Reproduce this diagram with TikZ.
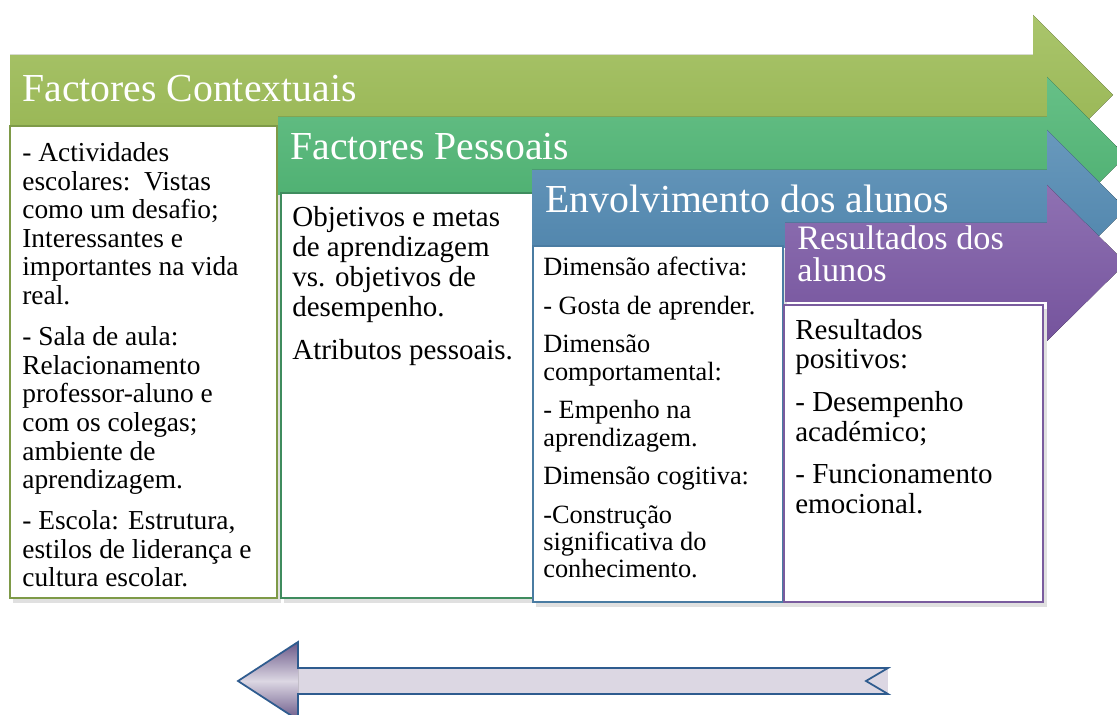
\documentclass[tikz,border=0pt]{standalone}
\usepackage{fontspec}
\setmainfont{Liberation Serif}
\usepackage{tikz}

\definecolor{verdeA}{HTML}{9BBB52}
\definecolor{verdeB}{HTML}{4CB572}
\definecolor{azulC}{HTML}{4E87B1}
\definecolor{roxoD}{HTML}{7B58A5}
\definecolor{bordaA}{HTML}{7E9A48}
\definecolor{bordaB}{HTML}{3F8C5E}
\definecolor{bordaC}{HTML}{4A7CA2}
\definecolor{bordaD}{HTML}{7A5C9E}
\definecolor{lilas}{HTML}{DCD7E3}
\definecolor{lilasE}{HTML}{6A5888}
\definecolor{azulE}{HTML}{2F5C8F}

\begin{document}
\begin{tikzpicture}[x=0.02cm, y=-0.02cm,
    seta/.style={top color=#1!85!white, bottom color=#1!95!black},
    caixa/.style={draw=#1, line width=1.1pt, fill=white},
    sombra/.style={fill=black, opacity=0.12},
    titulo/.style={white, inner sep=0pt, anchor=base west, font=\fontsize{22.6}{24}\selectfont},
    texto/.style={black, inner sep=0pt, anchor=north west, align=left}]
        \useasboundingbox (0,0) rectangle (1117,715);
        \clip (0,0) rectangle (1117,715);

        \fill[seta=verdeA] (10,55) -- (1033,55) -- (1033,15) -- (1113,95) -- (1033,175) -- (1033,135) -- (10,135) -- cycle;
        \draw (22,102) node(tctx)[titulo]{Factores Contextuais};
        \fill[sombra] (13,130) rectangle (281,603);
        \draw[caixa=bordaA] (10,126) rectangle (277,598);
        \draw (22,142) node(xctx)[texto, font=\fontsize{15.6}{16.3}\selectfont]{- Actividades\\ escolares:~~Vistas\\ como um desafio;\\ Interessantes e\\ importantes na vida\\ real.\\[7pt]
            - Sala de aula:\\ Relacionamento\\ professor-aluno e\\ com os colegas;\\ ambiente de\\ aprendizagem.\\[7pt]
            - Escola: Estrutura,\\ estilos de liderança e\\ cultura escolar.};

        \fill[seta=verdeB] (278,117) -- (1047,117) -- (1047,77) -- (1126,156) -- (1047,235) -- (1047,195) -- (278,195) -- cycle;
        \draw (290,160) node(tpes)[titulo]{Factores Pessoais};
        \fill[sombra] (284,197) rectangle (537,603);
        \draw[caixa=bordaB] (281,193) rectangle (533,598);
        \draw (292,206) node(xpes)[texto, font=\fontsize{16.5}{17}\selectfont]{Objetivos e metas\\ de aprendizagem\\ vs. objetivos de\\ desempenho.\\[8pt]
            Atributos pessoais.};

        \fill[seta=azulC] (532,170) -- (1047,170) -- (1047,130) -- (1126,209) -- (1047,288) -- (1047,248) -- (532,248) -- cycle;
        \draw (545,213) node(tenv)[titulo]{Envolvimento dos alunos};
        \fill[sombra] (536,250) rectangle (787,607);
        \draw[caixa=bordaC] (533,246) rectangle (783,602);
        \draw (543,257) node(xenv)[texto, font=\fontsize{15}{15.6}\selectfont]{Dimensão afectiva:\\[6.3pt] - Gosta de aprender.\\[6.3pt]
            Dimensão\\ comportamental:\\[6.3pt] - Empenho na\\ aprendizagem.\\[6.3pt]
            Dimensão cogitiva:\\[6.3pt] -Construção\\ significativa do\\ conhecimento.};

        \fill[seta=roxoD] (785,223) -- (1047,223) -- (1047,185) -- (1126,263) -- (1047,341) -- (1047,302) -- (785,302) -- cycle;
        \draw (797,225) node(tres)[texto, white, font=\fontsize{19.5}{18.2}\selectfont]{Resultados dos\\ alunos};
        \fill[sombra] (787,309) rectangle (1047,607);
        \draw[caixa=bordaD] (784,305) rectangle (1043,602);
        \draw (795,319) node(xres)[texto, font=\fontsize{16.5}{16.8}\selectfont]{Resultados\\ positivos:\\[7.4pt]
            - Desempenho\\ académico;\\[7.4pt]
            - Funcionamento\\ emocional.};

        \fill[lilas] (298,668) rectangle (888,694);
        \fill[top color=lilasE, bottom color=lilasE, middle color=lilas] (238,681) -- (298,642) -- (298,720) -- cycle;
        \draw[azulE, line width=1pt] (238,681) -- (298,642) -- (298,668) -- (888,668) -- (866,681) -- (888,694) -- (298,694) -- (298,720) -- cycle;
    \end{tikzpicture}
\end{document}
